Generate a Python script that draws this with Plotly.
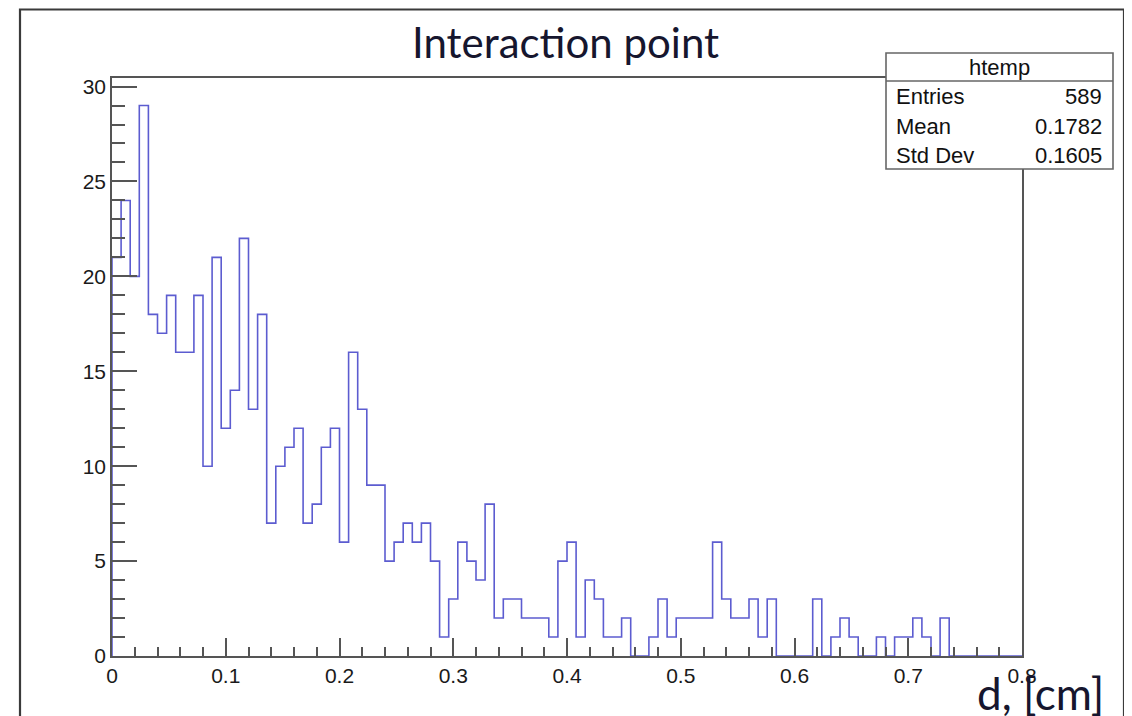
import numpy as np
import plotly.graph_objects as go

# ---- data ----
x_min, x_max, n_bins = 0.0, 0.8, 100
counts = [21, 24, 20, 29, 18, 17, 19, 16, 16, 19, 10, 21, 12, 14, 22, 13, 18, 7, 10, 11, 12,
          7, 8, 11, 12, 6, 16, 13, 9, 9, 5, 6, 7, 6, 7, 5, 1, 3, 6, 5, 4,
          8, 2, 3, 3, 2, 2, 2, 1, 5, 6, 1, 4, 3, 1, 1, 2,
          0, 0, 1, 3, 1, 2, 2, 2, 2, 6, 3, 2, 2, 3, 1, 3,
          0, 0, 0, 0, 3, 0, 1, 2, 1, 0, 0, 1, 0, 1, 1, 2, 1, 0, 2,
          0, 0, 0, 0, 0, 0, 0, 0]
stat_names = ["Entries", "Mean", "Std Dev"]
stat_values = ["589", "0.1782", "0.1605"]
hist_name = "htemp"
title_text = "Interaction point"
x_label = "d, [cm]"

# ---- geometry (page pixels; the page body has an 8px margin) ----
OFF = 8
W, H = 1132, 716
PLOT_L, PLOT_R, PLOT_T, PLOT_B = 112, 1022, 78, 656
L = PLOT_L - OFF
T = PLOT_T - OFF
PW = PLOT_R - PLOT_L
PH = PLOT_B - PLOT_T
R = W - L - PW
B = H - T - PH


def px(xp):
    return (xp - PLOT_L) / PW


def py(yp):
    return (PLOT_B - yp) / PH


edges = np.linspace(x_min, x_max, n_bins + 1)
xs = [edges[0]] + list(edges) + [edges[-1]]
ys = [0] + list(counts) + [counts[-1], 0]

fig = go.Figure()
fig.add_trace(go.Scatter(
    x=xs, y=ys, mode="lines", line_shape="hv",
    line=dict(color="#5c5cd0", width=1.6), hoverinfo="skip", showlegend=False))

axcol = "#555555"
tickfont = dict(family="Liberation Sans, Arial, sans-serif", size=21, color="#1a1a1a")
fig.update_xaxes(range=[x_min, x_max], dtick=0.1, tick0=0, ticks="inside", ticklen=18,
                 tickwidth=1.5, tickcolor=axcol, showline=True, linecolor=axcol, linewidth=1.5,
                 mirror=True, showgrid=False, zeroline=False, tickfont=tickfont,
                 minor=dict(dtick=0.02, ticks="inside", ticklen=9, tickcolor=axcol, tickwidth=1.5,
                            showgrid=False))
fig.update_yaxes(range=[0, 30.45], dtick=5, tick0=0, ticks="inside", ticklen=25,
                 tickwidth=1.5, tickcolor=axcol, showline=True, linecolor=axcol, linewidth=1.5,
                 mirror=True, showgrid=False, zeroline=False, tickfont=tickfont,
                 minor=dict(dtick=1, ticks="inside", ticklen=13, tickcolor=axcol, tickwidth=1.5,
                            showgrid=False))

shapes = []
# outer picture border (left, top, right)
shapes.append(dict(type="rect", xref="paper", yref="paper",
                   x0=px(20), x1=px(1124), y0=py(740), y1=py(9.5),
                   line=dict(color="#3a3a3a", width=2.2), fillcolor="rgba(0,0,0,0)", layer="above"))
# stat box
bx0, bx1, by0, by1, bhead = 886, 1113, 53, 169, 81
shapes.append(dict(type="rect", xref="paper", yref="paper",
                   x0=px(bx0), x1=px(bx1), y0=py(by1), y1=py(by0),
                   line=dict(color="#666666", width=1.6), fillcolor="white", layer="above"))
shapes.append(dict(type="line", xref="paper", yref="paper",
                   x0=px(bx0), x1=px(bx1), y0=py(bhead), y1=py(bhead),
                   line=dict(color="#666666", width=1.6), layer="above"))

stat_font = dict(family="Liberation Sans, Arial, sans-serif", size=22, color="#111111")
ann = []
ann.append(dict(xref="paper", yref="paper", x=px((bx0 + bx1) / 2), y=py(67),
                text=hist_name, showarrow=False, xanchor="center", yanchor="middle", font=stat_font))
row_y = [97, 126, 155]
for name, val, ry in zip(stat_names, stat_values, row_y):
    ann.append(dict(xref="paper", yref="paper", x=px(bx0 + 8), y=py(ry), text=name,
                    showarrow=False, xanchor="left", yanchor="middle", font=stat_font))
    ann.append(dict(xref="paper", yref="paper", x=px(bx1 - 9), y=py(ry), text=val,
                    showarrow=False, xanchor="right", yanchor="middle", font=stat_font))

ann.append(dict(xref="paper", yref="paper", x=px(565), y=py(42), text=title_text,
                showarrow=False, xanchor="center", yanchor="middle",
                font=dict(family="Lato, Open Sans, sans-serif", size=42, color="#16162e")))
ann.append(dict(xref="paper", yref="paper", x=px(1106), y=py(693), text=x_label,
                showarrow=False, xanchor="right", yanchor="middle",
                font=dict(family="Lato, Open Sans, sans-serif", size=44, color="#16162e")))

fig.update_layout(width=W, height=H, margin=dict(l=L, r=R, t=T, b=B, autoexpand=False),
                  paper_bgcolor="white", plot_bgcolor="white",
                  shapes=shapes, annotations=ann, showlegend=False)

fig.write_html("out.html")
